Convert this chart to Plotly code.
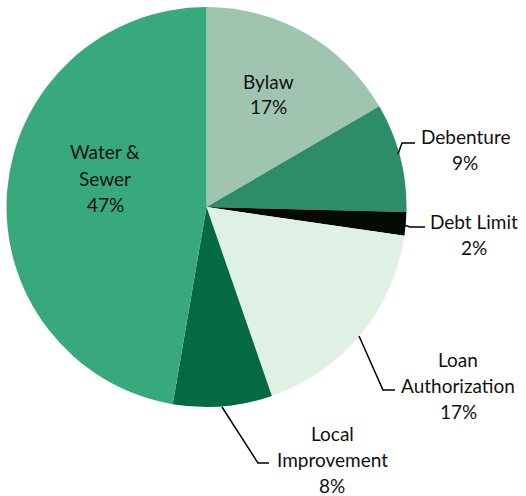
import plotly.graph_objects as go

# ---- data ----
categories = ["Bylaw", "Debenture", "Debt Limit", "Loan Authorization", "Local Improvement", "Water & Sewer"]
shares = [16.6, 8.8, 1.9, 17.4, 8.0, 47.3]
colors = ["#9fc5b0", "#2d8d68", "#050a05", "#dff0e5", "#036a41", "#37a97c"]

# ---- layout helpers (pixel -> paper) ----
W, H = 526, 496
def px(x): return x / W
def py(y): return 1 - y / H

cx, cy, R = 206.5, 207, 200

fig = go.Figure(go.Pie(
    labels=categories, values=shares, sort=False, direction="clockwise", rotation=0,
    marker=dict(colors=colors, line=dict(width=0)),
    textinfo="none", hoverinfo="label+percent", showlegend=False,
    domain=dict(x=[px(cx - R), px(cx + R)], y=[py(cy + R), py(cy - R)]),
))

# label lines: display wrapping and positions (centre x, first-line y)
label_layout = {
    "Bylaw": (["Bylaw"], 268, 81),
    "Debenture": (["Debenture"], 465, 136),
    "Debt Limit": (["Debt Limit"], 474, 221),
    "Loan Authorization": (["Loan", "Authorization"], 458, 359),
    "Local Improvement": (["Local", "Improvement"], 332, 433),
    "Water & Sewer": (["Water &", "Sewer"], 105, 152),
}
LH = 26
total = sum(shares)
annotations = []
for name, val in zip(categories, shares):
    lines, x, y0 = label_layout[name]
    pct = int(100 * val / total + 0.5)
    lines = lines + [f"{pct}%"]
    for i, t in enumerate(lines):
        annotations.append(dict(
            x=px(x), y=py(y0 + i * LH), xref="paper", yref="paper",
            text=t, showarrow=False, xanchor="center", yanchor="middle",
            font=dict(family="Lato", size=19, color="#111111"),
        ))

leaders = [
    [(398, 154), (402, 143), (415, 143)],
    [(404, 225), (410, 227), (425, 227)],
    [(359, 336), (383, 390), (395, 390)],
    [(222, 407), (258, 463), (269, 463)],
]
shapes = []
for pts in leaders:
    path = "M " + " L ".join(f"{px(x)},{py(y)}" for x, y in pts)
    shapes.append(dict(type="path", path=path, xref="paper", yref="paper",
                       line=dict(color="#000000", width=1.5)))

fig.update_layout(
    width=W, height=H, margin=dict(l=0, r=0, t=0, b=0),
    paper_bgcolor="white", plot_bgcolor="white",
    annotations=annotations, shapes=shapes,
)
fig.write_html("out.html", config={"displayModeBar": False},
               post_script="document.body.style.margin='0';")
